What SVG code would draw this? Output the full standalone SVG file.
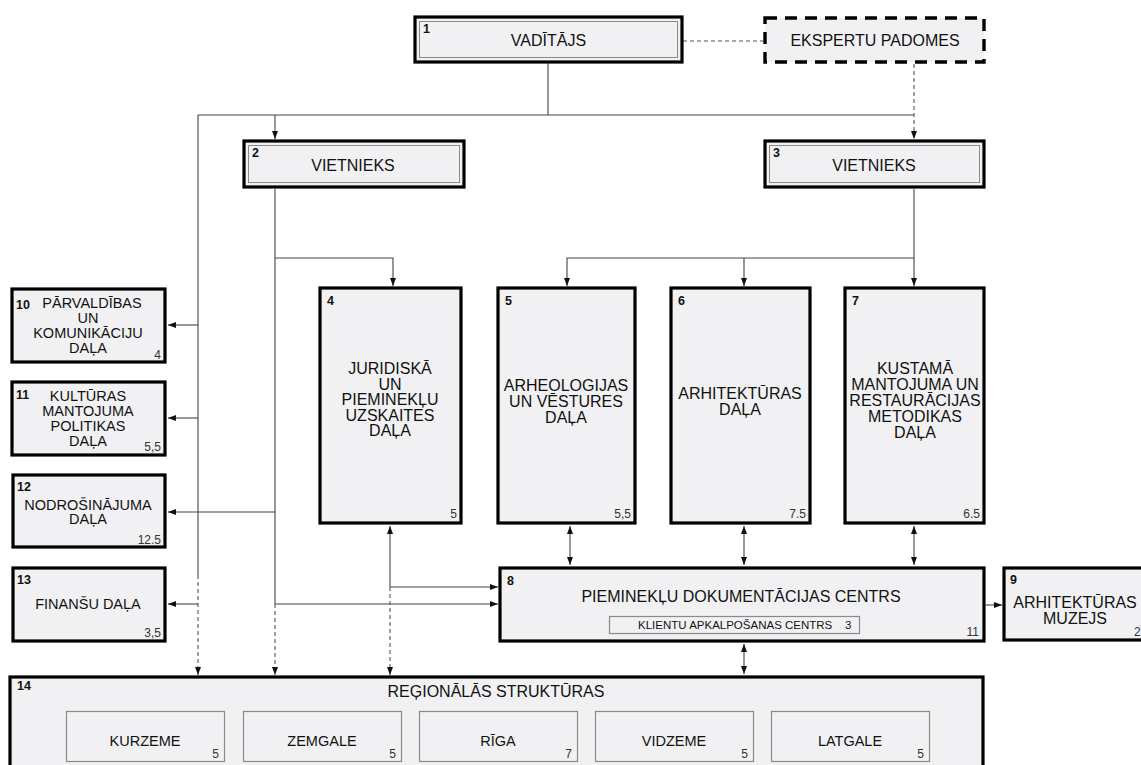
<svg xmlns="http://www.w3.org/2000/svg" width="1141" height="765" viewBox="0 0 1141 765">
<defs>
<style>
.box{fill:#f1f1f3;stroke:#000;stroke-width:3.2}
.inner{fill:none;stroke:#8a8a8a;stroke-width:1}
.sub{fill:#f1f1f3;stroke:#8a8a8a;stroke-width:1.2}
.ln{fill:none;stroke:#444;stroke-width:1.1}
.dl{fill:none;stroke:#555;stroke-width:1.1;stroke-dasharray:4 3}
.t{font-family:"Liberation Sans",Arial,sans-serif;fill:#111;text-anchor:middle}
.m{font-size:16px}
.s{font-size:14.5px}
.n{font-family:"Liberation Sans",Arial,sans-serif;font-weight:bold;font-size:12.5px;fill:#111}
.c{font-family:"Liberation Sans",Arial,sans-serif;font-size:12px;fill:#333;text-anchor:end}
</style>
<marker id="ar" viewBox="0 0 8 6" refX="8" refY="3" markerWidth="8" markerHeight="6" markerUnits="userSpaceOnUse" orient="auto-start-reverse">
<path d="M0,0 L8,3 L0,6 z" fill="#111"/>
</marker>
</defs>

<g id="connectors">
<path class="ln" d="M548,62 V115"/>
<path class="ln" d="M198,115 H914"/>
<path class="ln" d="M275,115 V139" marker-end="url(#ar)"/>
<path class="dl" d="M914,64 V139" marker-end="url(#ar)"/>
<path class="dl" d="M683,41 H763"/>
<path class="ln" d="M198,115 V575"/>
<path class="dl" d="M198,575 V675" marker-end="url(#ar)"/>
<path class="ln" d="M198,325 H168" marker-end="url(#ar)"/>
<path class="ln" d="M198,418 H168" marker-end="url(#ar)"/>
<path class="ln" d="M198,604 H168" marker-end="url(#ar)"/>
<path class="ln" d="M275,189 V604"/>
<path class="dl" d="M275,604 V675" marker-end="url(#ar)"/>
<path class="ln" d="M275,258 H393 V286" marker-end="url(#ar)"/>
<path class="ln" d="M275,512 H168" marker-end="url(#ar)"/>
<path class="ln" d="M275,604 H498" marker-end="url(#ar)"/>
<path class="ln" d="M914,189 V286" marker-end="url(#ar)"/>
<path class="ln" d="M914,258 H567 V286" marker-end="url(#ar)"/>
<path class="ln" d="M744,258 V286" marker-end="url(#ar)"/>
<path class="ln" d="M390,587 V526" marker-end="url(#ar)"/>
<path class="ln" d="M390,587 H498" marker-end="url(#ar)"/>
<path class="dl" d="M390,587 V675" marker-end="url(#ar)"/>
<path class="ln" d="M570,526 V565" marker-start="url(#ar)" marker-end="url(#ar)"/>
<path class="ln" d="M744,526 V565" marker-start="url(#ar)" marker-end="url(#ar)"/>
<path class="ln" d="M914,526 V565" marker-start="url(#ar)" marker-end="url(#ar)"/>
<path class="ln" d="M744,644 V674" marker-start="url(#ar)" marker-end="url(#ar)"/>
<path class="ln" d="M986,605 H1002" marker-end="url(#ar)"/>
</g>

<g id="n1">
<rect class="box" x="415" y="17" width="267" height="45"/>
<rect class="inner" x="419.5" y="21.5" width="258" height="36"/>
<text class="n" x="423" y="33">1</text>
<text class="t m" x="548.5" y="46">VADĪTĀJS</text>
</g>

<g id="eksperti">
<rect x="765" y="18" width="219" height="44" fill="#f1f1f3" stroke="#000" stroke-width="3.4" stroke-dasharray="12 8"/>
<text class="t m" x="875" y="46">EKSPERTU PADOMES</text>
</g>

<g id="n2">
<rect class="box" x="244" y="141" width="220" height="46"/>
<rect class="inner" x="248.5" y="145.5" width="211" height="37"/>
<text class="n" x="252" y="157">2</text>
<text class="t m" x="353" y="171">VIETNIEKS</text>
</g>

<g id="n3">
<rect class="box" x="765" y="141" width="219" height="46"/>
<rect class="inner" x="769.5" y="145.5" width="210" height="37"/>
<text class="n" x="773" y="157">3</text>
<text class="t m" x="874" y="171">VIETNIEKS</text>
</g>

<g id="n10">
<rect class="box" x="12" y="289" width="153" height="73"/>
<text class="n" x="16" y="309">10</text>
<text class="t s" x="92" y="308">PĀRVALDĪBAS</text>
<text class="t s" x="88" y="323">UN</text>
<text class="t s" x="88" y="338">KOMUNIKĀCIJU</text>
<text class="t s" x="88" y="353">DAĻA</text>
<text class="c" x="161" y="359">4</text>
</g>

<g id="n11">
<rect class="box" x="12" y="382" width="153" height="73"/>
<text class="n" x="16" y="399">11</text>
<text class="t s" x="88" y="401">KULTŪRAS</text>
<text class="t s" x="88" y="416">MANTOJUMA</text>
<text class="t s" x="88" y="431">POLITIKAS</text>
<text class="t s" x="88" y="446">DAĻA</text>
<text class="c" x="161" y="451">5,5</text>
</g>

<g id="n12">
<rect class="box" x="13" y="475" width="152" height="72"/>
<text class="n" x="17" y="491">12</text>
<text class="t s" x="88" y="510">NODROŠINĀJUMA</text>
<text class="t s" x="88" y="524">DAĻA</text>
<text class="c" x="161" y="544">12.5</text>
</g>

<g id="n13">
<rect class="box" x="13" y="568" width="152" height="73"/>
<text class="n" x="17" y="584">13</text>
<text class="t s" x="88" y="609">FINANŠU DAĻA</text>
<text class="c" x="161" y="637">3,5</text>
</g>

<g id="n4">
<rect class="box" x="320" y="288" width="141" height="235"/>
<text class="n" x="327" y="305">4</text>
<text class="t m" x="390" y="374">JURIDISKĀ</text>
<text class="t m" x="390" y="389.5">UN</text>
<text class="t m" x="390" y="405">PIEMINEKĻU</text>
<text class="t m" x="390" y="420.5">UZSKAITES</text>
<text class="t m" x="390" y="436">DAĻA</text>
<text class="c" x="457" y="518">5</text>
</g>

<g id="n5">
<rect class="box" x="498" y="288" width="137" height="235"/>
<text class="n" x="505" y="305">5</text>
<text class="t m" x="566" y="391">ARHEOLOGIJAS</text>
<text class="t m" x="566" y="407">UN VĒSTURES</text>
<text class="t m" x="566" y="423">DAĻA</text>
<text class="c" x="631" y="518">5,5</text>
</g>

<g id="n6">
<rect class="box" x="671" y="288" width="139" height="235"/>
<text class="n" x="678" y="305">6</text>
<text class="t m" x="740" y="399">ARHITEKTŪRAS</text>
<text class="t m" x="740" y="415">DAĻA</text>
<text class="c" x="806" y="518">7.5</text>
</g>

<g id="n7">
<rect class="box" x="845" y="288" width="139" height="235"/>
<text class="n" x="852" y="305">7</text>
<text class="t m" x="915" y="374">KUSTAMĀ</text>
<text class="t m" x="915" y="390">MANTOJUMA UN</text>
<text class="t m" x="915" y="406">RESTAURĀCIJAS</text>
<text class="t m" x="915" y="422">METODIKAS</text>
<text class="t m" x="915" y="438">DAĻA</text>
<text class="c" x="980" y="518">6.5</text>
</g>

<g id="n8">
<rect class="box" x="500" y="568" width="484" height="73"/>
<text class="n" x="507" y="585">8</text>
<text class="t m" x="741" y="602">PIEMINEKĻU DOKUMENTĀCIJAS CENTRS</text>
<rect class="sub" x="609.5" y="616.5" width="250" height="17"/>
<text x="638" y="629" font-family="Liberation Sans, Arial, sans-serif" font-size="11.5" fill="#111">KLIENTU APKALPOŠANAS CENTRS</text>
<text x="845" y="629" font-family="Liberation Sans, Arial, sans-serif" font-size="11.5" fill="#111">3</text>
<text class="c" x="979" y="636">11</text>
</g>

<g id="n9">
<rect class="box" x="1004" y="568" width="150" height="72"/>
<text class="n" x="1010" y="584">9</text>
<text class="t m" x="1075" y="608">ARHITEKTŪRAS</text>
<text class="t m" x="1075" y="624">MUZEJS</text>
<text x="1134" y="636" font-family="Liberation Sans, Arial, sans-serif" font-size="12" fill="#333">2</text>
</g>

<g id="n14">
<rect class="box" x="10" y="677" width="973" height="110"/>
<text class="n" x="17" y="690">14</text>
<text class="t m" x="496" y="697">REĢIONĀLĀS STRUKTŪRAS</text>
<g id="kurzeme">
<rect class="sub" x="66.5" y="711.5" width="158" height="50"/>
<text class="t s" x="145" y="746">KURZEME</text>
<text class="c" x="219" y="758">5</text>
</g>
<g id="zemgale">
<rect class="sub" x="243.5" y="711.5" width="158" height="50"/>
<text class="t s" x="322" y="746">ZEMGALE</text>
<text class="c" x="396" y="758">5</text>
</g>
<g id="riga">
<rect class="sub" x="419.5" y="711.5" width="158" height="50"/>
<text class="t s" x="498" y="746">RĪGA</text>
<text class="c" x="572" y="758">7</text>
</g>
<g id="vidzeme">
<rect class="sub" x="595.5" y="711.5" width="158" height="50"/>
<text class="t s" x="674" y="746">VIDZEME</text>
<text class="c" x="748" y="758">5</text>
</g>
<g id="latgale">
<rect class="sub" x="771.5" y="711.5" width="158" height="50"/>
<text class="t s" x="850" y="746">LATGALE</text>
<text class="c" x="924" y="758">5</text>
</g>
</g>
</svg>
